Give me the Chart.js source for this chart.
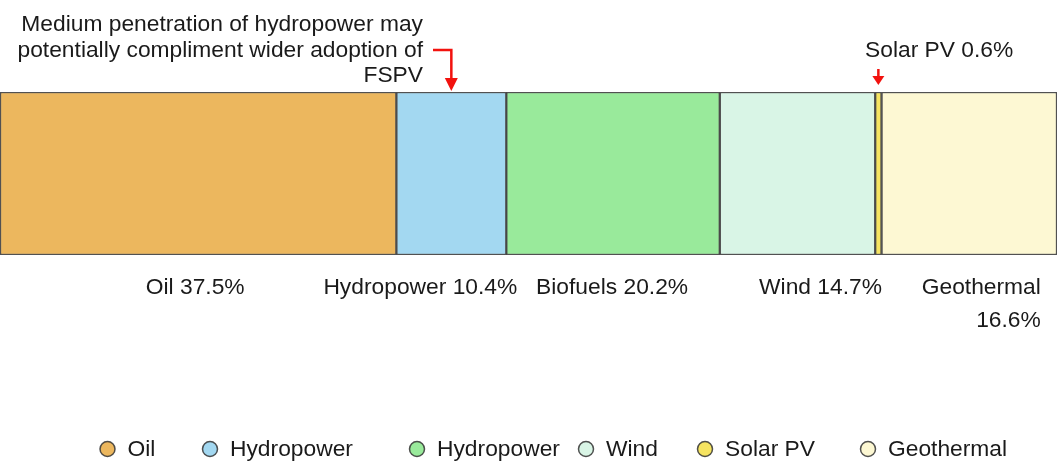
<!DOCTYPE html>
<html><head><meta charset="utf-8">
<script src="https://cdn.jsdelivr.net/npm/chart.js@4"></script>
<style>html,body{margin:0;padding:0;background:#fff;overflow:hidden}#wrap{width:1062px;height:465px;position:relative}</style>
</head><body><div id="wrap"><canvas id="c" width="1062" height="465"></canvas></div>
<script>
// ---- data ----
const categories = ['Oil', 'Hydropower', 'Biofuels', 'Wind', 'Solar PV', 'Geothermal'];
const shares = [37.5, 10.4, 20.2, 14.7, 0.6, 16.6];
const legendNames = ['Oil', 'Hydropower', 'Hydropower', 'Wind', 'Solar PV', 'Geothermal'];
const annotationLines = ['Medium penetration of hydropower may', 'potentially compliment wider adoption of', 'FSPV'];
const solarNote = 'Solar PV 0.6%';

// ---- styles ----
const colors = ['#ECB75E', '#A3D8F1', '#99EA9B', '#D9F5E6', '#F6E461', '#FDF8D3'];
const borderCol = 'rgba(50,50,50,0.85)';
const FONT = '22.8px "Liberation Sans", Arial, Helvetica, sans-serif';
const TEXT = '#1a1a1a';
const RED = '#f2120e';

const labelLayout = [
  {dx: -3}, {dx: -31}, {dx: -1}, {dx: 23}, null, {dx: 12, wrap: true}
];
const legendX = [107.5, 210, 417, 586, 705, 868];

const overlay = {
  id: 'overlay',
  afterDraw(chart) {
    const ctx = chart.ctx;
    const area = chart.chartArea;
    const segs = chart.data.datasets.map((d, i) => {
      const el = chart.getDatasetMeta(i).data[0];
      const s = Math.min(el.base, el.x), e = Math.max(el.base, el.x);
      return {s, e, c: (s + e) / 2};
    });
    ctx.save();
    ctx.font = FONT;
    ctx.fillStyle = TEXT;
    ctx.textBaseline = 'alphabetic';
    // labels below the bar
    categories.forEach((name, i) => {
      const lay = labelLayout[i];
      if (!lay) return;
      const txt = name + ' ' + shares[i] + '%';
      const cx = segs[i].c + lay.dx;
      const y = area.bottom + 39;
      if (lay.wrap) {
        const lines = [name, shares[i] + '%'];
        const w = Math.max(...lines.map(l => ctx.measureText(l).width));
        ctx.textAlign = 'right';
        lines.forEach((l, k) => ctx.fillText(l, cx + w / 2, y + k * 33));
      } else {
        ctx.textAlign = 'center';
        ctx.fillText(txt, cx, y);
      }
    });
    // annotation top-left
    ctx.textAlign = 'right';
    annotationLines.forEach((l, k) => ctx.fillText(l, 423, 31 + k * 25.5));
    // solar note
    ctx.textAlign = 'left';
    ctx.fillText(solarNote, 865, 57);

    // arrows
    ctx.strokeStyle = RED; ctx.fillStyle = RED; ctx.lineWidth = 2.5;
    const hx = segs[1].c;
    ctx.beginPath();
    ctx.moveTo(433, 50); ctx.lineTo(hx, 50); ctx.lineTo(hx, area.top - 12);
    ctx.stroke();
    ctx.beginPath();
    ctx.moveTo(hx - 6.5, area.top - 14); ctx.lineTo(hx + 6.5, area.top - 14); ctx.lineTo(hx, area.top - 1);
    ctx.closePath(); ctx.fill();

    const sx = segs[4].c;
    ctx.beginPath();
    ctx.moveTo(sx, 69); ctx.lineTo(sx, 77);
    ctx.stroke();
    ctx.beginPath();
    ctx.moveTo(sx - 6, 76); ctx.lineTo(sx + 6, 76); ctx.lineTo(sx, area.top - 7);
    ctx.closePath(); ctx.fill();

    // legend
    ctx.lineWidth = 1.5;
    ctx.textAlign = 'left';
    ctx.textBaseline = 'middle';
    legendNames.forEach((n, i) => {
      const cx = legendX[i], cy = 449;
      ctx.beginPath();
      ctx.arc(cx, cy, 7.5, 0, Math.PI * 2);
      ctx.fillStyle = colors[i]; ctx.fill();
      ctx.strokeStyle = borderCol; ctx.stroke();
      ctx.fillStyle = TEXT;
      ctx.fillText(n, cx + 20, cy + 1);
    });
    ctx.restore();
  }
};

new Chart(document.getElementById('c'), {
  type: 'bar',
  data: {
    labels: ['Share'],
    datasets: categories.map((name, i) => ({
      label: name,
      data: [shares[i]],
      backgroundColor: colors[i],
      borderColor: borderCol,
      borderWidth: 1.5,
      borderSkipped: false,
      barPercentage: 1,
      categoryPercentage: 1
    }))
  },
  options: {
    indexAxis: 'y',
    responsive: false,
    animation: false,
    layout: {padding: {left: 0, right: 5, top: 92, bottom: 210}},
    scales: {
      x: {stacked: true, min: 0, max: 100, display: false},
      y: {stacked: true, display: false}
    },
    plugins: {legend: {display: false}, tooltip: {enabled: false}}
  },
  plugins: [overlay]
});
</script>
</body></html>
